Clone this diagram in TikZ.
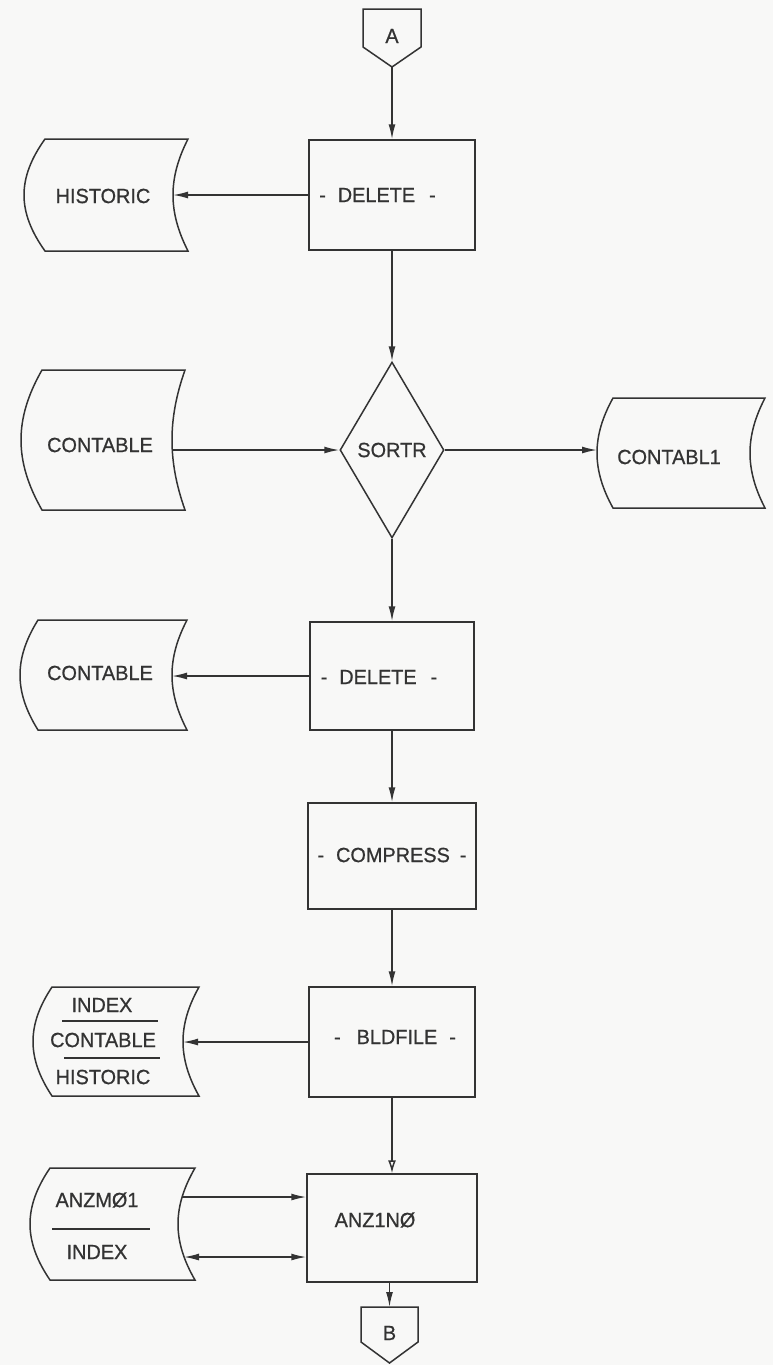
\documentclass[tikz,border=0pt]{standalone}
\usepackage{fontspec}
\setmainfont{Liberation Sans}[FakeStretch=0.97,FakeBold=0.7]
\usetikzlibrary{arrows.meta,shapes.geometric,calc}
\definecolor{ink}{HTML}{333333}
\definecolor{paper}{HTML}{F8F8F7}
\newcommand\storedata[6]{% xl, xr, yt, yb, bulge x, dip x
  \draw[ln] (#1,#3) -- (#2,#3)
    .. controls ({#2-(#2-#6)*4/3},{#3+(#4-#3)*0.35}) and ({#2-(#2-#6)*4/3},{#3+(#4-#3)*0.65}) .. (#2,#4)
    -- (#1,#4)
    .. controls ({#1-(#1-#5)*4/3},{#3+(#4-#3)*0.65}) and ({#1-(#1-#5)*4/3},{#3+(#4-#3)*0.35}) .. cycle;}
\begin{document}
\begin{tikzpicture}[x=1pt,y=-1pt,
  ln/.style={draw=ink,line width=1.5pt},
  box/.style={ln,rectangle,inner sep=0pt},
  lbl/.style={text=ink,font=\fontsize{20.5}{24}\selectfont,inner sep=0pt},
  arr/.style={ln,-{Latex[length=15pt,width=7pt]}},
  oarr/.style={ln,-{Latex[open,length=13pt,width=8pt]}},
  darr/.style={ln,{Latex[length=15pt,width=7pt]}-{Latex[length=15pt,width=7pt]}},
  sep/.style={ln,line width=1.2pt}]
\fill[paper] (0,0) rectangle (773,1365);
\useasboundingbox (0,0) rectangle (773,1365);

% connector A
\draw[ln] (363,9) -- (421,9) -- (421,47) -- (392,67) -- (363,47) -- cycle;
\node[lbl] (tA) at (392,36) {A};
\coordinate (Apt) at (392,67);

% boxes
\node[box,minimum width=166pt,minimum height=110pt] (del1) at (392,195) {};
\node[lbl] (tdel1) at (377.5,195) {-\hspace{12pt}DELETE\hspace{14pt}-};
\node[ln,diamond,inner sep=0pt,minimum width=104pt,minimum height=176pt,lbl] (sortr) at (392,450) {SORTR};
\node[box,minimum width=164pt,minimum height=108pt] (del2) at (392,676) {};
\node[lbl] (tdel2) at (379,677) {-\hspace{12pt}DELETE\hspace{14pt}-};
\node[box,minimum width=168pt,minimum height=106pt] (comp) at (392,856) {};
\node[lbl] (tcomp) at (392,855) {-\hspace{12pt}COMPRESS\hspace{10pt}-};
\node[box,minimum width=166pt,minimum height=110pt] (bld) at (392,1042) {};
\node[lbl] (tbld) at (395,1037) {-\hspace{16pt}BLDFILE\hspace{12pt}-};
\node[box,minimum width=170pt,minimum height=108pt] (anz) at (392,1228) {};
\node[lbl] (tanz) at (375,1220) {ANZ1NØ};

% connector B
\draw[ln] (361,1307) -- (418,1307) -- (418,1342) -- (389.5,1363) -- (361,1342) -- cycle;
\node[lbl] (tB) at (389.5,1333) {B};
\coordinate (Btop) at (389.5,1307);

% stored data shapes
\storedata{45}{188}{139}{251}{24}{173}
\node[lbl] (thist) at (103,196) {HISTORIC};
\coordinate (histr) at (173,195);

\storedata{42}{185}{370}{510}{21}{172}
\node[lbl] (tcont1) at (100,445) {CONTABLE};
\coordinate (cont1r) at (173,450);

\storedata{613}{765}{398}{508}{597}{750}
\node[lbl] (tcontl1) at (669,457) {CONTABL1};
\coordinate (contl1l) at (597,450);

\storedata{38}{187}{620}{730}{20}{172}
\node[lbl] (tcont2) at (100,673) {CONTABLE};
\coordinate (cont2r) at (172,676);

\storedata{52}{199}{987}{1096}{33}{183}
\node[lbl] (tidx1) at (102,1005) {INDEX};
\draw[sep] (62,1021) -- (158,1021);
\node[lbl] (tcont3) at (103,1040) {CONTABLE};
\draw[sep] (64,1058) -- (160,1058);
\node[lbl] (thist2) at (103,1077) {HISTORIC};
\coordinate (idxr) at (183,1042);

\storedata{50}{195}{1168}{1280}{30}{178}
\node[lbl] (tanzm) at (97,1200) {ANZMØ1};
\draw[sep] (52,1229) -- (150,1229);
\node[lbl] (tidx2) at (97,1252) {INDEX};
\coordinate (anzm1) at (182,1197);
\coordinate (anzm2) at (184,1257);

% connectors
\draw[arr] (Apt) -- (del1.north);
\draw[arr] (del1.west) -- (histr);
\draw[arr] (del1.south) -- (sortr.north);
\draw[arr] (cont1r) -- (sortr.west);
\draw[arr] (sortr.east) -- (contl1l);
\draw[arr] (sortr.south) -- (del2.north);
\draw[arr] (del2.west) -- (cont2r);
\draw[arr] (del2.south) -- (comp.north);
\draw[arr] (comp.south) -- (bld.north);
\draw[arr] (bld.west) -- (idxr);
\draw[oarr] (bld.south) -- (anz.north);
\draw[arr] (anzm1) -- (anzm1 -| anz.west);
\draw[darr] (anzm2) -- (anzm2 -| anz.west);
\draw[arr] (anz.south -| Btop) -- (Btop);
\end{tikzpicture}
\end{document}
